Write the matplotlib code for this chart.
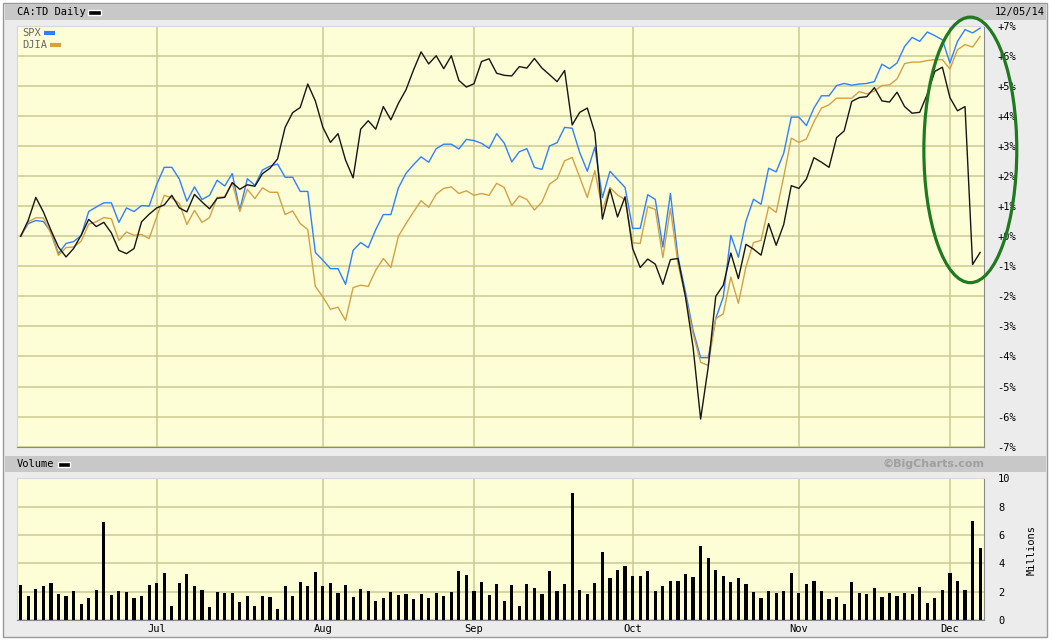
import matplotlib
matplotlib.use("Agg")
from matplotlib import pyplot as plt
from matplotlib.patches import Rectangle, Ellipse
from matplotlib.lines import Line2D

# percent change since start, one value per trading day
td = [0, 0.53, 1.29, 0.81, 0.2, -0.36, -0.69, -0.41, 0.03, 0.56,
      0.32, 0.46, 0.11, -0.47, -0.58, -0.41, 0.48, 0.73, 0.94, 1.04,
      1.36, 0.94, 0.81, 1.39, 1.14, 0.91, 1.26, 1.29, 1.78, 1.56,
      1.71, 1.66, 2.08, 2.26, 2.57, 3.62, 4.11, 4.28, 5.06, 4.5,
      3.62, 3.12, 3.41, 2.53, 1.94, 3.56, 3.84, 3.56, 4.31, 3.87,
      4.42, 4.87, 5.53, 6.13, 5.73, 6.0, 5.57, 6.0, 5.18, 4.96,
      5.07, 5.81, 5.9, 5.42, 5.35, 5.33, 5.64, 5.59, 5.91, 5.59,
      5.37, 5.14, 5.51, 3.7, 4.12, 4.26, 3.44, 0.57, 1.56, 0.64,
      1.31, -0.41, -1.04, -0.76, -0.93, -1.6, -0.78, -0.74, -2.02, -3.69,
      -6.08, -4.36, -2.0, -1.63, -0.56, -1.41, -0.27, -0.43, -0.63, 0.42,
      -0.3, 0.39, 1.68, 1.59, 1.9, 2.61, 2.46, 2.29, 3.28, 3.5,
      4.48, 4.61, 4.64, 4.94, 4.5, 4.46, 4.79, 4.31, 4.09, 4.12,
      4.72, 5.48, 5.62, 4.61, 4.17, 4.31, -0.94, -0.54]

spx = [0, 0.42, 0.52, 0.49, 0.14, -0.58, -0.24, -0.18, 0.02, 0.82,
       0.97, 1.11, 1.11, 0.46, 0.94, 0.82, 1.02, 1.0, 1.72, 2.29,
       2.29, 1.9, 1.16, 1.64, 1.22, 1.36, 1.86, 1.67, 2.08, 0.87,
       1.91, 1.69, 2.2, 2.33, 2.4, 1.96, 1.96, 1.49, 1.49, -0.54,
       -0.8, -1.08, -1.08, -1.6, -0.47, -0.21, -0.38, 0.22, 0.72, 0.72,
       1.61, 2.09, 2.38, 2.64, 2.46, 2.91, 3.06, 3.06, 2.9, 3.22,
       3.18, 3.09, 2.92, 3.41, 3.1, 2.47, 2.81, 2.91, 2.29, 2.22,
       3.0, 3.11, 3.62, 3.59, 2.78, 2.16, 2.96, 1.28, 2.16, 1.89,
       1.62, 0.26, 0.26, 1.38, 1.22, -0.36, 1.42, -0.69, -1.86, -3.13,
       -4.04, -4.04, -2.74, -2.02, 0.03, -0.7, 0.5, 1.23, 1.06, 2.26,
       2.14, 2.76, 3.96, 3.96, 3.68, 4.26, 4.67, 4.67, 5.01, 5.08,
       5.02, 5.06, 5.08, 5.14, 5.72, 5.57, 5.76, 6.31, 6.61, 6.48,
       6.79, 6.67, 6.53, 5.76, 6.48, 6.87, 6.76, 6.92]

djia = [0, 0.48, 0.61, 0.61, 0.09, -0.64, -0.38, -0.36, -0.17, 0.4,
        0.48, 0.62, 0.58, -0.14, 0.14, 0.03, 0.06, -0.08, 0.64, 1.36,
        1.27, 1.09, 0.39, 0.86, 0.46, 0.62, 1.29, 1.31, 1.78, 0.82,
        1.56, 1.25, 1.61, 1.46, 1.46, 0.72, 0.84, 0.42, 0.22, -1.67,
        -2.02, -2.43, -2.36, -2.8, -1.71, -1.63, -1.67, -1.13, -0.74, -1.04,
        0.0, 0.42, 0.81, 1.18, 0.96, 1.4, 1.59, 1.64, 1.42, 1.51,
        1.36, 1.42, 1.36, 1.76, 1.62, 1.02, 1.34, 1.22, 0.87, 1.14,
        1.73, 1.91, 2.51, 2.62, 1.96, 1.29, 2.18, 0.87, 1.62, 1.37,
        1.22, -0.22, -0.24, 0.98, 0.89, -0.71, 0.92, -0.91, -2.02, -3.24,
        -4.19, -4.3, -2.74, -2.58, -1.36, -2.23, -1.02, -0.21, -0.14, 0.98,
        0.79, 1.98, 3.26, 3.12, 3.23, 3.81, 4.26, 4.37, 4.59, 4.59,
        4.59, 4.81, 4.73, 4.83, 5.01, 5.03, 5.23, 5.74, 5.79, 5.79,
        5.84, 5.87, 5.87, 5.56, 6.2, 6.37, 6.29, 6.64]

# volume in millions
volume = [2.45, 1.67, 2.17, 2.38, 2.6, 1.81, 1.67, 2.02, 1.1, 1.52,
          2.1, 6.95, 1.74, 2.02, 1.95, 1.52, 1.67, 2.45, 2.6, 3.31,
          1.02, 2.6, 3.24, 2.38, 2.1, 0.95, 1.95, 1.88, 1.88, 1.24,
          1.67, 1.02, 1.67, 1.6, 0.81, 2.38, 1.67, 2.67, 2.38, 3.38,
          2.38, 2.6, 1.88, 2.45, 1.6, 2.17, 2.02, 1.31, 1.52, 1.95,
          1.74, 1.81, 1.45, 1.81, 1.52, 1.88, 1.67, 1.95, 3.45, 3.17,
          2.02, 2.67, 1.74, 2.52, 1.31, 2.45, 1.02, 2.52, 2.24, 1.81,
          3.45, 2.02, 2.52, 8.95, 2.1, 1.81, 2.6, 4.81, 2.95, 3.52,
          3.81, 3.1, 3.1, 3.45, 2.02, 2.38, 2.74, 2.74, 3.24, 3.02,
          5.24, 4.38, 3.52, 3.1, 2.67, 2.95, 2.52, 1.95, 1.52, 2.02,
          1.88, 2.02, 3.31, 1.88, 2.52, 2.74, 2.02, 1.45, 1.6, 1.1,
          2.67, 1.88, 1.81, 2.24, 1.6, 1.88, 1.67, 1.88, 1.81, 2.31,
          1.17, 1.52, 2.1, 3.31, 2.74, 2.1, 7.02, 5.1]

months = ["Jul", "Aug", "Sep", "Oct", "Nov", "Dec"]
month_idx = [18, 40, 60, 81, 103, 123]
pct_ticks = list(range(-7, 8))
vol_ticks = [0, 2, 4, 6, 8, 10]

W, H = 1052, 643
BG = "#ececec"
BAND = "#c8c8c8"
FACE = "#fefed6"
GRID = "#cbca94"
MONO = "DejaVu Sans Mono"
SPX_C = "#2f80ff"
DJIA_C = "#d4a045"


def fx(x):
    return x / W


def fy(y):
    return 1 - y / H


def box(x0, y0, x1, y1, z=-5, **kw):
    # rectangle in pixel coords, measured from the top-left corner
    fig.patches.append(Rectangle((fx(x0), fy(y1)), fx(x1 - x0), (y1 - y0) / H,
                                 transform=fig.transFigure, zorder=z, **kw))


fig = plt.figure(figsize=(W / 100, H / 100), dpi=100, facecolor="white")

# frame and grey bands
box(3, 3, 1047, 637, facecolor=BG, edgecolor="#9a9a9a", lw=1, z=-10)
box(5, 4, 1046, 20, facecolor=BAND, edgecolor="none")
box(5, 456, 1046, 472, facecolor=BAND, edgecolor="none")

fig.text(fx(17), fy(12), "CA:TD Daily", family=MONO, fontsize=7.5, va="center")
box(88, 10, 101, 15, facecolor="black", edgecolor="white", lw=1)
fig.text(fx(1045), fy(12), "12/05/14", family=MONO, fontsize=7.5, va="center", ha="right")

fig.text(fx(17), fy(464), "Volume", family=MONO, fontsize=7.5, va="center")
box(58, 462, 70, 467, facecolor="black", edgecolor="white", lw=1)
fig.text(fx(984), fy(464), "\u00a9BigCharts.com", fontsize=8, fontweight="bold",
         color="#a0a0a0", va="center", ha="right")
fig.text(fx(1032), fy(550), "Millions", family=MONO, fontsize=7.5, rotation=90,
         va="center", ha="center")

# price pane
ax = fig.add_axes([fx(17.3), fy(446.7), 967 / W, 421 / H])
ax.set_facecolor(FACE)
x = list(range(len(td)))
ax.plot(x, spx, color=SPX_C, lw=1.0)
ax.plot(x, djia, color=DJIA_C, lw=1.0)
ax.plot(x, td, color="#151515", lw=1.0, zorder=3)
ax.set_xlim(-0.45, 127.55)
ax.set_ylim(-7, 7)
ax.set_yticks(pct_ticks)
ax.set_yticklabels([("+%d%%" % v) if v >= 0 else ("%d%%" % v) for v in pct_ticks],
                   family=MONO, fontsize=7.5)
ax.set_xticks(month_idx)
ax.set_xticklabels([])
ax.yaxis.tick_right()
ax.tick_params(length=0, pad=9.5)
ax.grid(True, color=GRID, lw=1.1)
ax.set_axisbelow(True)
for side in ["left", "top"]:
    ax.spines[side].set_color("#d8d8d8")
for side in ["right", "bottom"]:
    ax.spines[side].set_color("#8a8a8a")

# legend: label followed by a short colour bar
for name, col, y, sw in [("SPX", SPX_C, 33, 44), ("DJIA", DJIA_C, 45, 50)]:
    fig.text(fx(22), fy(y), name, family=MONO, fontsize=7.5, color="#666666", va="center")
    fig.lines.append(Line2D([fx(sw), fx(sw + 11)], [fy(y), fy(y)], color=col, lw=3,
                            solid_capstyle="butt", transform=fig.transFigure))

ax.add_patch(Ellipse((125.7, 2.87), 12.3, 8.83, fill=False, edgecolor="#1e7a1e",
                     lw=2.3, clip_on=False, zorder=5))

# volume pane
axv = fig.add_axes([fx(17.3), fy(620), 967 / W, 141.7 / H])
axv.set_facecolor(FACE)
axv.bar(x, volume, width=0.42, color="black")
axv.set_xlim(-0.45, 127.55)
axv.set_ylim(0, 10)
axv.set_yticks(vol_ticks)
axv.set_yticklabels([str(v) for v in vol_ticks], family=MONO, fontsize=7.5)
axv.yaxis.tick_right()
axv.set_xticks(month_idx)
axv.set_xticklabels(months, family=MONO, fontsize=7.5)
axv.tick_params(axis="y", length=0, pad=10)
axv.tick_params(axis="x", length=0, pad=3)
axv.grid(True, color=GRID, lw=1.1)
axv.set_axisbelow(True)
for side in ["left", "top"]:
    axv.spines[side].set_color("#d8d8d8")
for side in ["right", "bottom"]:
    axv.spines[side].set_color("#8a8a8a")

fig.savefig("out.png", dpi=100, facecolor=fig.get_facecolor())
